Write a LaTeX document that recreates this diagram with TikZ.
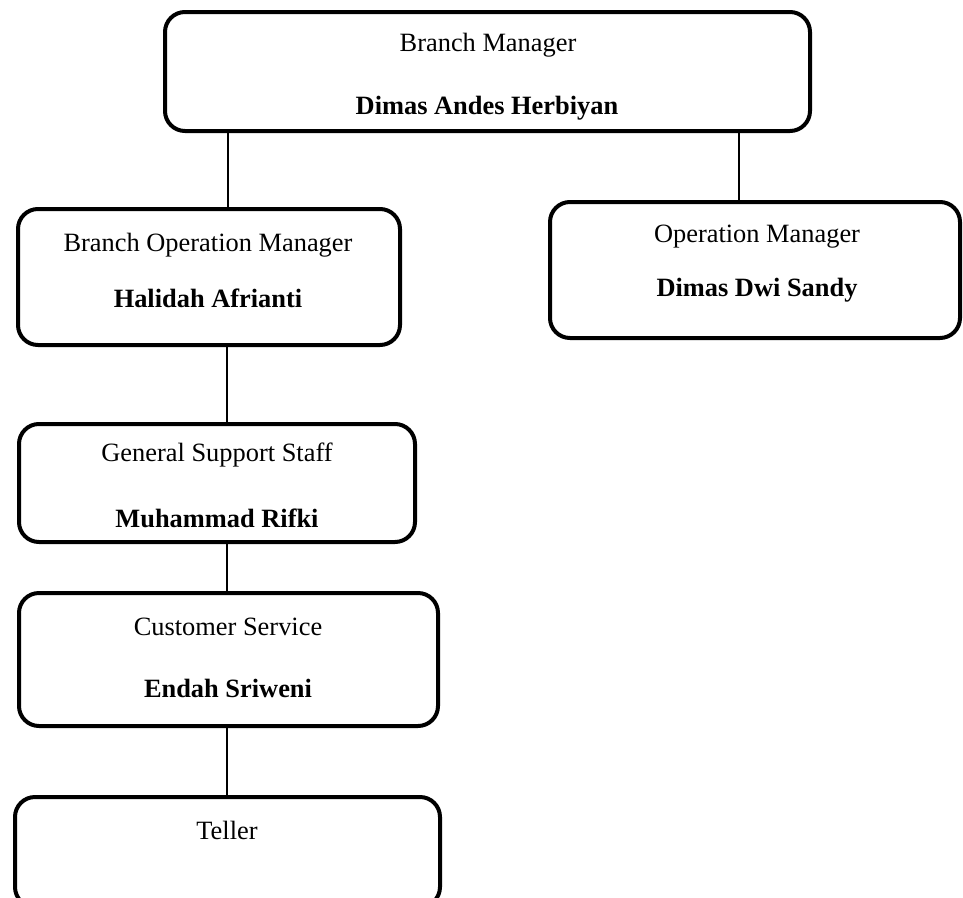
\documentclass[tikz,border=0pt]{standalone}
\usepackage{fontspec}
\setmainfont{Liberation Serif}
\begin{document}
\begin{tikzpicture}[x=1pt,y=-1pt,
  box/.style={draw=black, line width=4pt, rounded corners=20pt, inner sep=0pt},
  lbl/.style={inner sep=0pt, font=\fontsize{26.4}{30}\selectfont},
  pname/.style={inner sep=0pt, font=\fontsize{26.4}{30}\selectfont\bfseries},
  link/.style={draw=black, line width=1.3pt}]
\useasboundingbox (0,0) rectangle (963,897);
\clip (0,0) rectangle (963,897);
% labels
\node[lbl]   (t1) at (488,45)  {Branch Manager};
\node[pname] (t2) at (487,108) {Dimas Andes Herbiyan};
\node[lbl]   (b1) at (208,245) {Branch Operation Manager};
\node[pname] (b2) at (208,298) {Halidah Afrianti};
\node[lbl]   (o1) at (757,237) {Operation Manager};
\node[pname] (o2) at (757,290) {Dimas Dwi Sandy};
\node[lbl]   (g1) at (217,455) {General Support Staff};
\node[pname] (g2) at (217,518) {Muhammad Rifki};
\node[lbl]   (c1) at (228,627) {Customer Service};
\node[pname] (c2) at (228,688) {Endah Sriweni};
\node[lbl]   (e1) at (227,830) {Teller};
% boxes
\node[box, minimum width=645pt, minimum height=119pt] (top) at (487.5,71.5) {};
\node[box, minimum width=382pt, minimum height=136pt] (bom) at (209,277) {};
\node[box, minimum width=410pt, minimum height=136pt] (om)  at (755,270) {};
\node[box, minimum width=396pt, minimum height=118pt] (gss) at (217,483) {};
\node[box, minimum width=419pt, minimum height=133pt] (cs)  at (228.5,659.5) {};
\node[box, minimum width=425pt, minimum height=110pt] (tel) at (227.5,852) {};
% connectors
\coordinate (k1) at (228,131);
\coordinate (k2) at (739,131);
\coordinate (k3) at (227,345);
\coordinate (k4) at (227,542);
\coordinate (k5) at (227,726);
\draw[link] (k1) -- (k1 |- bom.north);
\draw[link] (k2) -- (k2 |- om.north);
\draw[link] (k3) -- (k3 |- gss.north);
\draw[link] (k4) -- (k4 |- cs.north);
\draw[link] (k5) -- (k5 |- tel.north);
\end{tikzpicture}
\end{document}
